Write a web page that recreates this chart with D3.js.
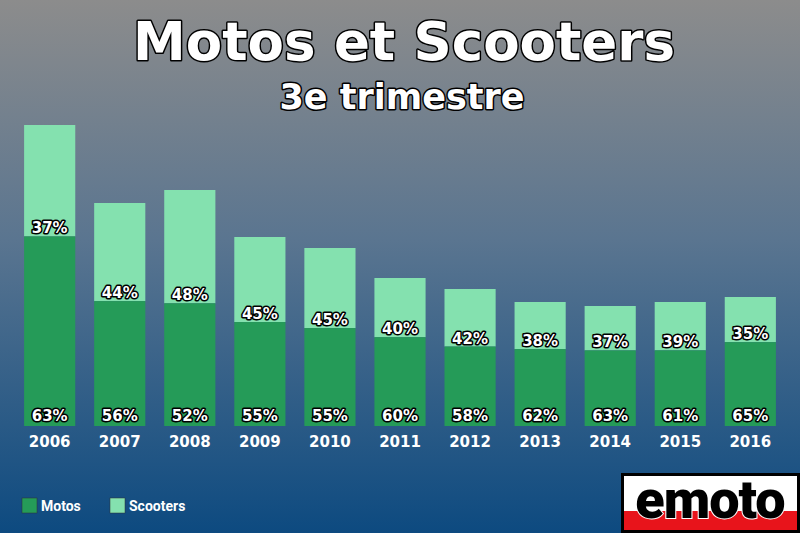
<!DOCTYPE html>
<html><head><meta charset="utf-8">
<script src="https://cdn.jsdelivr.net/npm/d3@7"></script>
<style>body{margin:0;overflow:hidden}svg{display:block;font-family:"DejaVu Sans",sans-serif}</style>
</head><body><div id="chart"></div>
<script>
// ---------- data ----------
const years = ["2006","2007","2008","2009","2010","2011","2012","2013","2014","2015","2016"];
const totals = [301, 223, 236, 189, 178, 148, 137, 124, 120, 124, 129];
const motosPct = [63, 56, 52, 55, 55, 60, 58, 62, 63, 61, 65];
const scootersPct = [37, 44, 48, 45, 45, 40, 42, 38, 37, 39, 35];

const width = 800, height = 533;
const svg = d3.select("#chart").append("svg").attr("width", width).attr("height", height);

// background gradient
const grad = svg.append("defs").append("linearGradient").attr("id", "bg")
    .attr("x1", 0).attr("y1", 0).attr("x2", 0).attr("y2", 1);
grad.append("stop").attr("offset", "0%").attr("stop-color", "#8c8c8c");
grad.append("stop").attr("offset", "45%").attr("stop-color", "#5a7590");
grad.append("stop").attr("offset", "100%").attr("stop-color", "#0d4a80");
svg.append("rect").attr("width", width).attr("height", height).attr("fill", "url(#bg)");

// title
const outlined = sel => sel.attr("fill", "white").attr("stroke", "black")
    .attr("paint-order", "stroke").attr("stroke-linejoin", "round");
svg.append("text").attr("x", 404).attr("y", 60).attr("text-anchor", "middle")
    .attr("font-size", 53).attr("font-weight", "bold").attr("stroke-width", 3)
    .text("Motos et Scooters").call(outlined);
svg.append("text").attr("x", 402).attr("y", 109).attr("text-anchor", "middle")
    .attr("font-size", 35).attr("font-weight", "bold").attr("stroke-width", 3)
    .text("3e trimestre").call(outlined);

// scales
const x = d3.scaleBand().domain(years).range([15, 785]).paddingInner(0.27).paddingOuter(0.13);
const y = d3.scaleLinear().domain([0, 301]).range([426, 125]);

const g = svg.append("g");
years.forEach((yr, i) => {
    const t = totals[i];
    const m = t * motosPct[i] / 100;
    g.append("rect").attr("x", x(yr)).attr("width", x.bandwidth())
        .attr("y", y(t)).attr("height", y(m) - y(t)).attr("fill", "#84e1af");
    g.append("rect").attr("x", x(yr)).attr("width", x.bandwidth())
        .attr("y", y(m)).attr("height", y(0) - y(m)).attr("fill", "#259b58");
    const cx = x(yr) + x.bandwidth() / 2;
    g.append("text").attr("x", cx).attr("y", y(0) - 5).attr("text-anchor", "middle")
        .attr("font-size", 15).attr("font-weight", "bold").attr("stroke-width", 3)
        .text(motosPct[i] + "%").call(outlined);
    g.append("text").attr("x", cx).attr("y", y(m) - 3).attr("text-anchor", "middle")
        .attr("font-size", 15).attr("font-weight", "bold").attr("stroke-width", 3)
        .text(scootersPct[i] + "%").call(outlined);
    g.append("text").attr("x", cx).attr("y", 447).attr("text-anchor", "middle")
        .attr("font-size", 15).attr("font-weight", "bold").attr("fill", "white")
        .text(yr);
});

// legend
const legend = [["Motos", "#259b58", 22], ["Scooters", "#84e1af", 110]];
legend.forEach(([name, col, lx]) => {
    svg.append("rect").attr("x", lx).attr("y", 498).attr("width", 15).attr("height", 15)
        .attr("fill", col).attr("stroke", "#333").attr("stroke-width", 0.5);
    svg.append("text").attr("x", lx + 19).attr("y", 511).attr("font-size", 14)
        .attr("font-family", "Roboto").attr("font-weight", "bold").attr("fill", "white").text(name);
});

// logo
svg.append("rect").attr("x", 621).attr("y", 473).attr("width", 179).attr("height", 60).attr("fill", "black");
svg.append("rect").attr("x", 624).attr("y", 476).attr("width", 173).attr("height", 35).attr("fill", "white");
svg.append("rect").attr("x", 624).attr("y", 511).attr("width", 173).attr("height", 19).attr("fill", "#e8141b");
svg.append("text").attr("x", 710).attr("y", 518).attr("text-anchor", "middle")
    .attr("font-family", "Roboto").attr("font-size", 54).attr("font-weight", "900").attr("fill", "black")
    .attr("stroke", "white").attr("stroke-width", 2).attr("paint-order", "stroke")
    .attr("letter-spacing", -1).text("emoto");
</script></body></html>
